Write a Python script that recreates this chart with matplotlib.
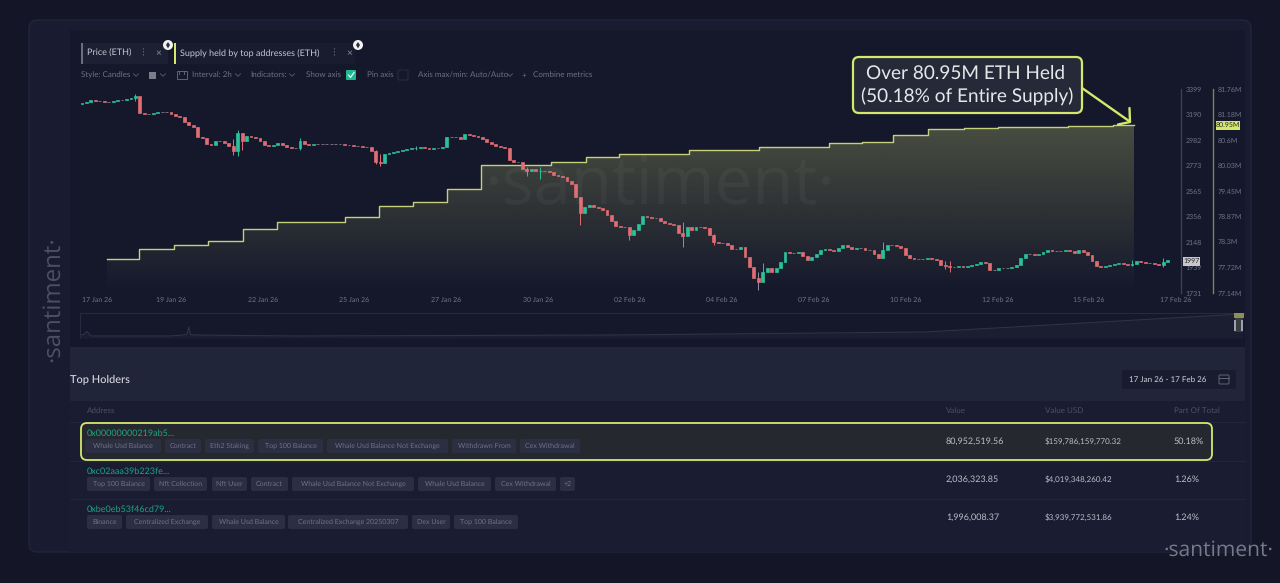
import numpy as np
import matplotlib
matplotlib.use("Agg")
import matplotlib.pyplot as plt
from matplotlib.patches import FancyBboxPatch, Rectangle, Circle
from matplotlib.transforms import ScaledTranslation

plt.rcParams['font.family'] = ['Lato', 'DejaVu Sans']
plt.rcParams['text.hinting'] = 'no_hinting'
plt.rcParams['text.hinting_factor'] = 1

# ---------- data ----------
price_close = [
 3285,3293,3309,3301,3301,3293,3293,3301,3309,3309,3317,3325,3342,3203,3195,3195,3203,3211,3211,3211,
 3195,3178,3170,3129,3105,3088,3007,2998,2949,2941,2974,2974,2957,2933,2892,3039,2974,3015,3007,2998,
 2974,2941,2933,2941,2957,2941,2925,2917,2917,2974,2949,2941,2949,2949,2949,2949,2949,2949,2949,2941,
 2941,2933,2933,2925,2925,2892,2802,2794,2868,2876,2884,2892,2900,2908,2917,2917,2925,2917,2908,2917,
 2917,2925,3007,3007,3007,2990,3031,3023,3015,3007,2990,2966,2949,2933,2925,2917,2819,2802,2802,2745,
 2729,2745,2729,2729,2729,2720,2696,2688,2680,2647,2622,2516,2385,2434,2451,2434,2426,2410,2369,2320,
 2279,2271,2271,2205,2246,2295,2361,2352,2344,2344,2320,2303,2295,2287,2222,2197,2271,2246,2271,2271,
 2263,2205,2148,2140,2140,2123,2091,2091,2107,2025,1944,1854,1821,1903,1936,1903,1936,1985,2066,2058,
 2058,2066,2034,2001,2025,2050,2083,2091,2083,2074,2099,2124,2107,2091,2099,2099,2083,2083,2050,2017,
 2083,2124,2124,2115,2099,2042,2017,2009,2009,2009,2017,2009,2001,1960,1952,1944,1944,1952,1944,1952,
 1960,1968,1985,1977,1919,1919,1936,1936,1936,1944,1960,2017,2050,2050,2042,2050,2066,2083,2074,2074,
 2074,2083,2074,2058,2083,2066,2042,1993,1952,1944,1952,1960,1968,1977,1968,1960,1968,1993,1985,1977,
 1977,1968,1960,1985,1997]
price_first_open = 3277
candle_start_day = 0.084
candle_step_days = 0.125
wick_index = [12,34,35,36,49,66,67,75,100,103,112,123,135,142,152,153,180,194,195,236,243]
wick_high  = [3360,2990,3060,3000,3000,2900,2870,2935,2760,2760,2440,2250,2311,2210,1905,1975,2150,1990,1990,2000,2015]
wick_low   = [3300,2860,2850,2900,2900,2785,2770,2900,2690,2660,2290,2165,2107,2120,1755,1860,2060,1925,1900,1955,1945]

supply_days = [0.79,1.68,2.66,3.62,4.60,5.55,7.46,8.44,9.37,10.35,11.30,13.26,14.25,15.17,17.13,19.10,21.06,21.99,22.88,23.86,24.85,25.83,27.79,29.05,29.64]
supply_vals = [77.91,78.14,78.23,78.32,78.59,78.75,78.86,79.11,79.20,79.49,80.04,80.11,80.22,80.29,80.38,80.45,80.54,80.56,80.72,80.85,80.88,80.90,80.92,80.95,80.95]

price_ticks = [3399,3190,2982,2773,2565,2356,2148,1939,1731]
supply_ticks = [81.76,81.18,80.6,80.03,79.45,78.87,78.3,77.72,77.14]
supply_labels = ['81.76M','81.18M','80.6M','80.03M','79.45M','78.87M','78.3M','77.72M','77.14M']
date_days = [0,2.58,5.16,7.74,10.32,12.9,15.48,18.06,20.64,23.22,25.8,28.38,30.96]
date_labels = ['17 Jan 26','19 Jan 26','22 Jan 26','25 Jan 26','27 Jan 26','30 Jan 26','02 Feb 26','04 Feb 26','07 Feb 26','10 Feb 26','12 Feb 26','15 Feb 26','17 Feb 26']

nav_days = [0,0.1,0.2,0.3,2.5,2.9,3.0,3.05,3.1,3.2,6,15,23.7,32.6]
nav_vals = [12,14,26,8,8,12,16,44,14,12,8,12,24,96]

addresses = ['0x00000000219ab5...','0xc02aaa39b223fe...','0xbe0eb53f46cd79...']
values = ['80,952,519.56','2,036,323.85','1,996,008.37']
values_usd = ['$159,786,159,770.32','$4,019,348,260.42','$3,939,772,531.86']
part_of_total = ['50.18%','1.26%','1.24%']
tags_row1 = ['Whale Usd Balance','Contract','Eth2 Staking','Top 100 Balance','Whale Usd Balance Not Exchange','Withdrawn From','Cex Withdrawal']
tags_row2 = ['Top 100 Balance','Nft Collection','Nft User','Contract','Whale Usd Balance Not Exchange','Whale Usd Balance','Cex Withdrawal','+2']
tags_row3 = ['Binance','Centralized Exchange','Whale Usd Balance','Centralized Exchange 20250307','Dex User','Top 100 Balance']
tag_edges_row1 = [(85,161),(165,201),(205,254),(258,323),(327,448),(452,516),(520,580)]
tag_edges_row2 = [(87,150),(154,207),(212,247),(251,288),(292,414),(418,491),(495,556),(560,575)]
tag_edges_row3 = [(87,122),(126,208),(212,285),(288,408),(412,450),(454,518)]

# ---------- colours ----------
OUTER = '#141627'; PANEL = '#191c31'; CHART = '#15182b'; BAND = '#21253a'; TABLE = '#1a1d31'
LIME = '#d6e86c'; GREEN = '#2cc09b'; RED = '#df6d73'; GREY = '#6c7082'; LIGHT = '#c6c8d0'

W, H = 1280, 583
fig = plt.figure(figsize=(W/100, H/100), dpi=100, facecolor=OUTER)


def px_axes(z):
    a = fig.add_axes([0, 0, 1, 1], zorder=z)
    a.set_xlim(0, W); a.set_ylim(H, 0); a.axis('off'); a.patch.set_alpha(0)
    return a


bg = px_axes(0)
fg = px_axes(6)


def rbox(a, x0, y0, x1, y1, r=2, fc='none', ec='none', lw=0, z=1):
    p = FancyBboxPatch((x0, y0), x1-x0, y1-y0, boxstyle=f'round,pad=0,rounding_size={r}',
                       fc=fc, ec=ec, lw=lw, zorder=z)
    a.add_patch(p)
    return p


def T(a, x, y, s, size=6, color=GREY, ha='left', va='center', **kw):
    return a.text(x, y, s, fontsize=size, color=color, ha=ha, va=va, **kw)


def chevron(a, x, y, color='#5a5e70'):
    a.plot([x-2.5, x, x+2.5], [y-1.2, y+1.3, y-1.2], color=color, lw=0.6)


# panels
rbox(bg, 29, 20, 1251, 552, r=8, fc=PANEL, ec='#24283c', lw=0.8)
bg.add_patch(Rectangle((70, 30), 1175, 317, fc=CHART, ec='none', zorder=1.2))
bg.add_patch(Rectangle((70, 347), 1175, 54, fc=BAND, ec='none', zorder=1.5))
bg.add_patch(Rectangle((70, 401), 1175, 151, fc=TABLE, ec='none', zorder=1.5))

# ---------- main chart ----------
L, R, TOP, BOT = 79, 1181, 89, 293
ax = fig.add_axes([L/W, 1-BOT/H, (R-L)/W, (BOT-TOP)/H], zorder=3)
ax2 = ax.twinx()
ax2.set_zorder(2); ax.set_zorder(3)
ax.patch.set_visible(False); ax2.patch.set_visible(False)

ax.set_xlim(0, (R-L)/35.66)
ax.set_ylim(price_ticks[-1], price_ticks[0])
ax2.set_ylim(supply_ticks[-1], supply_ticks[0])

# supply fill with vertical gradient
poly = ax2.fill_between(supply_days, supply_vals, supply_ticks[-1], step='post', alpha=0)
grad = np.zeros((256, 1, 4))
grad[..., 0], grad[..., 1], grad[..., 2] = 205/255, 215/255, 120/255
grad[:, 0, 3] = np.linspace(0.34, 0.0, 256)
im = ax2.imshow(grad, extent=[0, ax.get_xlim()[1], supply_ticks[-1], supply_ticks[0]],
                aspect='auto', origin='upper', zorder=1)
im.set_clip_path(poly.get_paths()[0], transform=ax2.transData)
ax2.set_xlim(ax.get_xlim()); ax2.set_ylim(supply_ticks[-1], supply_ticks[0])
ax2.plot(supply_days, supply_vals, drawstyle='steps-post', color='#c4d178', lw=1.0, zorder=2)

# candles
closes = np.array(price_close, float)
opens = np.r_[price_first_open, closes[:-1]]
days = candle_start_day + candle_step_days*np.arange(len(closes))
up = closes >= opens
colors = [GREEN if u else RED for u in up]
flat = [('#9a8f9b' if abs(c-o) < 1 else col) for c, o, col in zip(closes, opens, colors)]
ax.bar(days, np.abs(closes-opens), bottom=np.minimum(opens, closes), width=0.08,
       color=flat, edgecolor=flat, linewidth=0.5, zorder=3)
ax.vlines(days[wick_index], wick_low, wick_high,
          colors=[colors[i] if i not in (34, 123, 135, 152) else '#8d93a0' for i in wick_index],
          lw=0.7, zorder=2.5)

# axes
ax.grid(True, color='#ffffff', alpha=0.02, lw=0.4, ls=':')
ax.set_axisbelow(True)
ax.set_xticks(date_days); ax.set_xticklabels(date_labels)
ax.set_yticks(price_ticks); ax.set_yticklabels([str(v) for v in price_ticks])
ax.yaxis.tick_right()
ax.tick_params(axis='y', length=0, pad=3.5, labelsize=5, labelcolor='#6f7385')
ax.tick_params(axis='x', length=0, pad=2.5, labelsize=5, labelcolor='#6f7385')
labs = ax.get_xticklabels()
labs[0].set_transform(labs[0].get_transform()+ScaledTranslation(18/100, 0, fig.dpi_scale_trans))
labs[-1].set_transform(labs[-1].get_transform()+ScaledTranslation(-5/100, 0, fig.dpi_scale_trans))
for s in ('top', 'left', 'bottom'):
    ax.spines[s].set_visible(False); ax2.spines[s].set_visible(False)
ax.spines['right'].set_color('#3e4152'); ax.spines['right'].set_linewidth(0.9)
ax2.spines['right'].set_position(('outward', 32*0.72))
ax2.spines['right'].set_color('#7f8359'); ax2.spines['right'].set_linewidth(1.0)
ax2.set_yticks(supply_ticks); ax2.set_yticklabels(supply_labels)
ax2.tick_params(axis='y', length=0, pad=3.5, labelsize=5, labelcolor='#6f7385')

# watermark
T(fg, 660, 186, '\u00b7santiment\u00b7', size=48, color='#ffffff', ha='center', alpha=0.04, family='Open Sans')

# value tags
fg.add_patch(Rectangle((1183, 257), 17, 9, fc='#c8c8cc', ec='none'))
T(fg, 1191.5, 261.5, '1997', size=5, color='#23252e', ha='center')
fg.add_patch(Rectangle((1216, 121), 24, 8.5, fc=LIME, ec='none'))
T(fg, 1228, 125, '80.95M', size=4.8, color='#23262a', ha='center')

# ---------- navigator ----------
nav = fig.add_axes([80/W, 1-338/H, (1245-80)/W, 25/H], zorder=3)
nav.patch.set_visible(False)
nav.set_xlim(0, 32.67); nav.set_ylim(0, 100)
nav.plot(nav_days, nav_vals, color='#2e3245', lw=0.8)
nav.fill_between(nav_days, nav_vals, 0, color='#2e3245', alpha=0.25, lw=0)
nav.set_xticks([]); nav.set_yticks([])
for s in ('right', 'bottom'):
    nav.spines[s].set_visible(False)
for s in ('top', 'left'):
    nav.spines[s].set_color('#2a2e42'); nav.spines[s].set_linewidth(0.6)
fg.add_patch(Rectangle((1234, 313), 10, 5, fc='#8b8f5a', ec='none'))
fg.add_patch(Rectangle((1235, 318), 8, 14, fc='#3a3e3c', ec='none'))
fg.add_patch(Rectangle((1234, 320), 2, 11, fc='#9aa0b8', ec='none'))
fg.add_patch(Rectangle((1241, 320), 2, 11, fc='#9aa0b8', ec='none'))

# ---------- header chips ----------
rbox(bg, 81, 43, 168, 64, r=1.5, fc='#1d2033', z=2)
rbox(bg, 174, 43, 355, 64, r=1.5, fc='#191c2f', z=2)
bg.add_patch(Rectangle((81, 43), 2.2, 21, fc='#6a6e7e', ec='none', zorder=3))
bg.add_patch(Rectangle((174, 43), 2.2, 21, fc=LIME, ec='none', zorder=3))
T(fg, 87, 53.5, 'Price (ETH)', size=6.7, color=LIGHT)
T(fg, 180, 53.5, 'Supply held by top addresses (ETH)', size=6.7, color=LIGHT)
for x in (143, 334):
    T(fg, x, 53.5, '\u22ee', size=6.5, color='#7a7e8e', ha='center', family='DejaVu Sans')
for x in (158, 349):
    T(fg, x, 53.5, '\u00d7', size=7.5, color='#8a8e9c', ha='center')
for x in (168, 358):
    fg.add_patch(Circle((x, 45), 5, fc='#f2f2f2', ec='none'))
    fg.add_patch(plt.Polygon([[x, 42], [x+2, 45], [x, 48.3], [x-2, 45]], fc='#2b2d36', ec='none'))

# ---------- toolbar ----------
for x, s in [(81, 'Style: Candles'), (192, 'Interval: 2h'), (250, 'Indicators:'), (306, 'Show axis'),
             (367, 'Pin axis'), (418, 'Axis max/min: Auto/Auto'), (533, 'Combine metrics')]:
    T(fg, x, 75, s, size=5.45, color=GREY)
T(fg, 524, 75, '+', size=6, color=GREY, ha='center')
for x in (136, 163, 238, 292, 510):
    chevron(fg, x, 75)
fg.add_patch(Rectangle((149, 71.5), 6.5, 7, fc='#7b7e8a', ec='none'))
fg.add_patch(Rectangle((176.5, 71), 10.5, 8, fc='none', ec='#6a6e7e', lw=0.6))
fg.plot([179, 179], [71, 73.5], color='#6a6e7e', lw=0.6)
fg.plot([184, 184], [71, 73.5], color='#6a6e7e', lw=0.6)
rbox(fg, 346, 70, 356, 80, r=1, fc='#1eb792')
fg.plot([348.5, 350.5, 354], [75, 77.5, 72.5], color='#e6f7f2', lw=0.9)
rbox(fg, 398, 70, 408, 80, r=1, fc='none', ec='#2a2d40', lw=0.7)

# ---------- callout ----------
rbox(fg, 853, 57, 1082, 113, r=6, fc='#262a38', ec=LIME, lw=1.6, z=4)
T(fg, 966, 73, 'Over 80.95M ETH Held', size=13.8, color='#e6e7ea', ha='center', zorder=5)
T(fg, 967, 97, '(50.18% of Entire Supply)', size=13.8, color='#e6e7ea', ha='center', zorder=5)
fg.plot([1082, 1129], [88, 121], color=LIME, lw=1.7, solid_capstyle='round', zorder=5)
fg.plot([1129.5, 1130, 1118], [108, 122, 124.5], color=LIME, lw=1.7, solid_capstyle='round', zorder=5)

# ---------- table ----------
T(fg, 70, 380, 'Top Holders', size=8, color='#d6d8de', weight='medium')
rbox(bg, 1122, 370, 1236, 389, r=2, fc='#191c2f', z=2)
T(fg, 1129, 380, '17 Jan 26 - 17 Feb 26', size=5.9, color='#d0d2d8')
rbox(fg, 1219, 375, 1229, 384, r=1, ec='#6a6e7e', lw=0.6)
fg.plot([1219, 1229], [378, 378], color='#6a6e7e', lw=0.6)

for x, s in [(87, 'Address'), (946, 'Value'), (1045, 'Value USD'), (1174, 'Part Of Total')]:
    T(fg, x, 411, s, size=6.1, color='#4c5065')
for y in (422, 460.5, 498.5):
    bg.plot([70, 1245], [y, y], color='#24283c', lw=0.6, zorder=2)
rbox(bg, 81, 423, 1212, 460, r=6, fc='#25282f', ec=LIME, lw=1.3, z=3)

row_y = [441, 479, 517]
addr_y = [433, 471, 509]
tag_y = [446, 484, 522]
for i, (tags, edges) in enumerate(zip((tags_row1, tags_row2, tags_row3),
                                      (tag_edges_row1, tag_edges_row2, tag_edges_row3))):
    T(fg, 87, addr_y[i], addresses[i], size=6.5, color='#1fa384')
    T(fg, 946, row_y[i], values[i], size=6.4, color='#bdbfc8')
    T(fg, 1045, row_y[i], values_usd[i], size=5.9, color='#bdbfc8')
    T(fg, 1174, row_y[i], part_of_total[i], size=6.2, color='#bdbfc8')
    for tag, (x0, x1) in zip(tags, edges):
        rbox(fg, x0, tag_y[i]-7, x1, tag_y[i]+7, r=2, fc='#2c2f41', z=1)
        T(fg, (x0+x1)/2, tag_y[i], tag, size=5.4, color='#6f7285', ha='center', zorder=3)

# ---------- brand marks ----------
T(fg, 53, 299, '\u00b7santiment\u00b7', size=17, color='#4c5066', ha='center', rotation=90, family='Open Sans')
T(fg, 1218, 550, '\u00b7santiment\u00b7', size=15, color='#767a88', ha='center', family='Open Sans')

fig.savefig('out.png', dpi=100, facecolor=OUTER)
